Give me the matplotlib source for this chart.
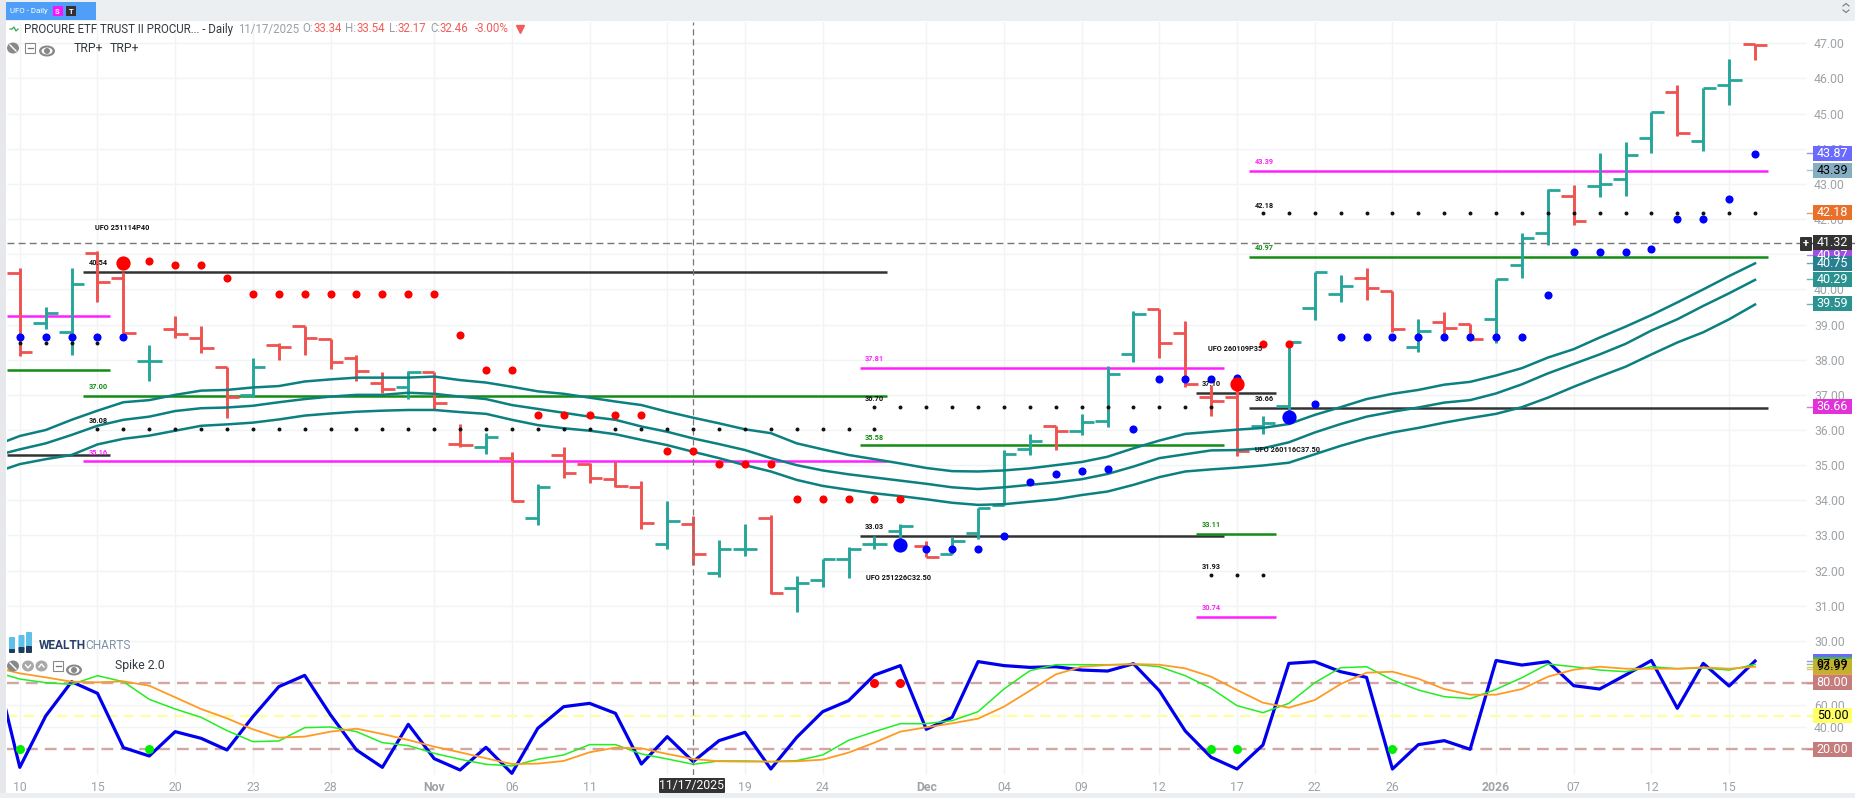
import numpy as np
import matplotlib
matplotlib.use("Agg")
import matplotlib.pyplot as plt
from matplotlib.patches import Rectangle, Circle, FancyBboxPatch, Ellipse
from matplotlib.transforms import blended_transform_factory as blend

plt.rcParams['font.family'] = ['Roboto', 'DejaVu Sans']

# ---------- price bars ----------
opens = [40.46,39.05,38.80,41.04,40.31,37.97,38.87,38.61,37.78,37.00,38.41,38.96,38.58,38.04,37.33,37.22,37.64,35.61,35.53,35.21,33.49,35.30,35.02,34.61,34.39,32.75,33.34,31.94,32.62,33.49,31.50,31.72,32.32,32.75,33.12,32.71,32.48,33.06,33.87,35.45,36.11,35.96,36.27,38.17,39.43,38.75,36.95,36.93,36.10,36.68,39.46,39.86,40.33,39.95,38.35,39.08,39.02,39.15,40.70,41.60,42.65,42.95,43.13,44.30,45.61,44.21,45.80,46.98]
highs = [40.60,39.49,40.60,41.10,40.50,38.42,39.24,38.96,37.80,38.04,38.47,38.96,38.58,38.14,37.64,37.68,37.66,36.17,35.91,35.37,34.46,35.51,35.05,35.12,34.55,33.98,33.54,32.87,33.33,33.58,31.85,32.32,32.66,32.99,33.33,32.83,32.95,33.77,35.43,35.89,36.12,36.45,37.82,39.38,39.44,39.10,37.28,37.20,36.40,38.47,40.50,40.41,40.60,39.95,39.16,39.35,39.02,40.29,41.60,42.86,42.97,43.89,44.20,45.06,45.81,45.72,46.55,46.98]
lows = [38.11,38.87,38.13,39.65,38.75,37.40,38.61,38.20,36.35,36.93,37.99,38.13,37.73,37.38,37.06,36.89,36.60,35.51,35.31,33.98,33.30,34.63,34.48,34.39,33.18,32.61,32.17,31.83,32.43,31.33,30.82,31.53,31.78,32.61,32.90,32.40,32.47,32.89,33.87,35.29,35.43,35.86,36.08,37.93,38.04,37.21,36.41,35.26,35.88,36.30,39.13,39.63,39.70,38.78,38.23,38.66,38.58,38.47,40.31,41.25,41.83,42.64,42.67,43.89,44.37,43.95,45.25,46.52]
closes = [38.23,39.34,40.14,40.22,38.77,37.97,38.74,38.34,36.93,37.78,38.37,38.61,37.94,37.69,37.18,37.64,36.76,35.56,35.81,33.99,34.37,34.79,34.63,34.42,33.35,33.40,32.46,32.61,32.62,31.36,31.66,32.32,32.61,32.75,33.28,32.40,32.85,33.77,35.31,35.68,35.98,36.24,37.58,39.29,38.47,37.32,36.82,35.41,36.19,38.49,40.49,40.11,40.03,38.86,38.81,38.91,38.60,40.29,41.47,42.83,41.94,42.99,43.83,45.04,44.46,45.72,45.95,46.94]

# ---------- moving averages (first value is one session before the first bar) ----------
ma_upper = [35.55,35.83,36.00,36.29,36.55,36.79,36.85,37.00,37.12,37.14,37.21,37.25,37.38,37.44,37.49,37.49,37.49,37.52,37.42,37.35,37.23,37.10,37.03,36.92,36.81,36.71,36.52,36.35,36.19,36.02,35.91,35.62,35.45,35.29,35.17,35.05,34.92,34.83,34.82,34.85,34.91,35.00,35.09,35.24,35.48,35.70,35.89,35.95,36.01,36.06,36.17,36.43,36.65,36.88,37.03,37.14,37.29,37.37,37.55,37.76,38.06,38.30,38.63,38.94,39.27,39.63,40.00,40.38,40.74]
ma_mid = [35.26,35.45,35.62,35.86,36.12,36.29,36.38,36.54,36.62,36.64,36.69,36.79,36.88,36.95,37.00,37.00,37.06,37.03,36.95,36.88,36.71,36.60,36.49,36.38,36.29,36.10,35.95,35.76,35.60,35.43,35.20,35.00,34.85,34.74,34.65,34.56,34.47,34.37,34.32,34.37,34.44,34.51,34.60,34.75,34.96,35.20,35.31,35.42,35.43,35.48,35.65,35.93,36.17,36.38,36.52,36.64,36.78,36.85,37.04,37.30,37.61,37.88,38.15,38.45,38.83,39.15,39.53,39.89,40.27]
ma_lower = [34.78,35.03,35.17,35.29,35.59,35.75,35.84,35.98,36.12,36.16,36.21,36.30,36.41,36.47,36.52,36.55,36.57,36.57,36.51,36.46,36.29,36.14,36.05,35.98,35.88,35.72,35.57,35.38,35.20,35.00,34.82,34.58,34.41,34.30,34.20,34.12,34.03,33.93,33.87,33.89,33.96,34.03,34.15,34.25,34.44,34.66,34.82,34.88,34.93,34.99,35.07,35.31,35.55,35.76,35.93,36.06,36.21,36.34,36.46,36.65,36.92,37.23,37.52,37.80,38.15,38.49,38.78,39.15,39.57]

# ---------- signal dots: session index -> price ----------
blue_idx = [0,1,2,3,4,35,36,37,38,39,40,41,42,43,44,45,46,47,50,51,52,53,54,55,56,57,58,59,60,61,62,63,64,65,66,67]
blue_val = [38.65,38.65,38.65,38.65,38.65,32.62,32.62,32.62,32.99,34.53,34.76,34.82,34.89,36.03,37.46,37.46,37.46,37.47,36.74,38.65,38.65,38.65,38.65,38.65,38.65,38.65,38.65,39.84,41.07,41.07,41.07,41.15,42.00,42.00,42.57,43.85]
blue_big_idx = [34,49]
blue_big_val = [32.73,36.38]
red_idx = [5,6,7,8,9,10,11,12,13,14,15,16,17,18,19,20,21,22,23,24,25,26,27,28,29,30,31,32,33,34,48,49]
red_val = [40.81,40.70,40.70,40.31,39.87,39.87,39.87,39.87,39.87,39.87,39.87,39.87,38.70,37.71,37.71,36.43,36.43,36.43,36.43,36.43,35.40,35.40,35.03,35.03,35.03,34.04,34.04,34.04,34.04,34.04,38.45,38.45]
red_big_idx = [4,47]
red_big_val = [40.74,37.30]
black_runs = [(0,3,38.48),(3,33,36.03),(33,46,36.66),(46,48,31.88),(48,67,42.16)]

# ---------- option levels: start, end, price, colour ----------
GREEN, MAG, BLK = '#148c14', '#ff1fff', '#333333'
levels = [(-0.5,3.5,39.24,MAG),(-0.5,3.5,37.71,GREEN),(-0.5,3.5,35.29,BLK),
          (2.45,33.47,40.50,BLK),(2.45,33.47,36.97,GREEN),(2.45,33.47,35.12,MAG),
          (32.45,46.5,37.77,MAG),(32.45,46.5,35.56,GREEN),(32.45,46.5,32.99,BLK),
          (45.4,48.5,37.05,BLK),(45.4,48.5,33.05,GREEN),(45.4,48.5,30.69,MAG),
          (47.45,67.5,43.37,MAG),(47.45,67.5,40.93,GREEN),(47.45,67.5,36.64,BLK)]
level_labels = [(3.05,40.74,'40.54','#111111'),(3.05,37.21,'37.00','#148c14'),(3.05,36.27,'36.08','#111111'),(3.05,35.36,'35.16',MAG),
                (33.0,38.01,'37.81',MAG),(33.0,36.89,'36.70','#111111'),(33.0,35.78,'35.58','#148c14'),(33.0,33.23,'33.03','#111111'),
                (46.0,37.30,'37.10','#111111'),(46.0,33.30,'33.11','#148c14'),(46.0,32.11,'31.93','#111111'),(46.0,30.93,'30.74',MAG),
                (48.04,43.61,'43.39',MAG),(48.04,42.38,'42.18','#111111'),(48.04,41.17,'40.97','#148c14'),(48.04,36.87,'36.66','#111111'),
                (3.97,41.74,'UFO 251114P40','#111111'),(33.93,31.78,'UFO 251226C32.50','#111111'),
                (46.94,38.30,'UFO 260109P35','#111111'),(48.95,35.43,'UFO 260116C37.50','#111111')]

# ---------- Spike 2.0 pane (first value is one session before the first bar) ----------
spike_blue = [100,3.75,50.0,80.9,70.4,21.5,14.0,35.9,29.9,19.4,49.4,76.4,86.6,50.9,19.4,3.75,42.5,11.6,1.35,21.8,-1.65,38.9,58.4,61.4,52.4,6.75,31.4,8.9,27.8,35.3,2.25,30.8,53.9,63.8,86.9,95.4,38.0,48.8,99.0,95.4,93.8,94.4,91.4,90.5,97.1,72.8,36.5,12.8,2.25,23.9,97.4,98.95,89.9,84.8,2.25,24.2,27.8,20.0,100,95.9,98.95,77.3,74.3,86.9,100,56.9,97.4,77.0,99.5]
spike_green = [90,83.3,80,78.5,86.3,80.9,65.0,56.3,48.8,36.8,26.9,27.5,39.5,40.1,35.9,26.0,23.3,16.4,11.0,6.5,5.0,11.0,14.9,24.2,24.2,15.8,11.3,6.5,9.5,9.5,8.9,9.8,14.9,28.1,35.9,43.1,43.1,45.8,53.9,74.3,90.8,96.2,96.2,96.2,96.5,94.4,86.3,74.9,59.3,53.0,61.4,80.0,93.5,94.4,82.4,73.4,67.4,65.6,74.0,84.5,96.8,94.4,91.4,89.9,94.4,92.6,93.2,91.4,96.5]
spike_orange = [94,88.4,84.8,80.9,80.3,81.2,77.3,66.8,56.3,47.9,38.0,30.5,31.4,35.9,38.6,33.8,28.4,22.4,17.3,11.9,6.75,7.1,9.5,17.3,21.5,20.9,15.8,11.3,9.2,8.9,8.9,9.2,10.7,17.0,26.0,35.9,39.8,43.4,47.6,58.4,72.8,87.5,94.4,95.9,96.8,96.2,92.9,85.4,73.4,62.0,57.5,64.4,78.8,89.0,89.9,83.6,74.3,69.2,69.2,74.3,85.4,91.7,94.4,92.6,92.6,92.6,93.8,92.6,94.4]
spike_green_dots = [0,5,46,47,53]
spike_red_dots = [33,34]

# ---------- axes text ----------
x_ticks = [0,3,6,9,12,16,19,22,25,28,31,35,38,41,44,47,50,53,57,60,63,66]
x_labels = ['10','15','20','23','28','Nov','06','11','','19','24','Dec','04','09','12','17','22','26','2026','07','12','15']
bold_labels = ['Nov','Dec','2026']
price_ticks = list(range(30,48))
spike_ticks = [40,60]
cross_idx, cross_price = 26, 41.32
price_tags = [(43.87,'43.87','#6a6aff','white'),(43.39,'43.39','#85aec2','black'),(42.18,'42.18','#e8702a','white'),
              (40.97,'40.97','#a04fe0','white'),(40.75,'40.75','#27808f','white'),(40.29,'40.29','#2a9390','white'),
              (39.59,'39.59','#2a9390','white'),(36.66,'36.66','#e032d8','white'),(41.32,'41.32','#333333','white')]
spike_tags = [(99.1,'','#6a6aff','black'),(96.8,'97.99','#44bb44','black'),(92.0,'','#f0a040','black'),(94.4,'93.97','#c4b030','black'),
              (80,'80.00','#c47c7c','white'),(50,'50.00','#ffff66','black'),(20,'20.00','#c47c7c','white')]

W, H = 1855, 798
fig = plt.figure(figsize=(W/100, H/100), dpi=100, facecolor='white')
L, R = 7, 1855
def axrect(top, bot):
    return [L/W, 1-bot/H, (R-L)/W, (bot-top)/H]
ax = fig.add_axes(axrect(22, 655))
ax2 = fig.add_axes(axrect(655, 775))
xlim = (-0.494, 70.86)
GRID = '#f0f4f5'
TICKC = '#9ea3a8'
for a in (ax, ax2):
    a.set_xlim(*xlim)
    a.set_facecolor('none')
    for s in a.spines.values():
        s.set_visible(False)
    a.set_xticks(x_ticks)
    a.grid(axis='x', color=GRID, lw=1.0, zorder=0)
    a.set_axisbelow(True)
ax.set_ylim(29.60, 47.606)
ax2.set_ylim(-3.15, 104.95)
ax.tick_params(axis='x', length=0, labelbottom=False)
ax2.set_xticklabels(x_labels, fontsize=8.8, color=TICKC)
for t in ax2.get_xticklabels():
    if t.get_text() in bold_labels:
        t.set_fontweight('bold')
ax2.tick_params(axis='x', length=0, pad=4.5)
grid_end = 68.97
for a, ticks in ((ax, price_ticks), (ax2, spike_ticks)):
    a.yaxis.tick_right()
    a.set_yticks(ticks)
    a.set_yticklabels([f'{t:.2f}' for t in ticks], fontsize=8.8, color=TICKC)
    a.tick_params(axis='y', length=0, pad=-29.5)
    for t in a.get_yticklabels():
        t.set_ha('left')
ax.hlines(price_ticks, xlim[0], grid_end, color=GRID, lw=1.0, zorder=0.5)
ax2.hlines([40, 60], xlim[0], grid_end, color=GRID, lw=1.0, zorder=0.5)

# levels
for x0, x1, y, c in levels:
    ax.hlines(y, x0, x1, color=c, lw=1.8, zorder=2)
# OHLC
RED, TEAL = '#ef5350', '#26a69a'
n = len(opens)
tick = 0.48
for i in range(n):
    c = TEAL if closes[i] >= opens[i] else RED
    ax.vlines(i, lows[i], highs[i], color=c, lw=2.1, zorder=3, capstyle='butt')
    ax.hlines(opens[i], i-tick, i, color=c, lw=2.0, zorder=3, capstyle='butt')
    ax.hlines(closes[i], i, i+tick, color=c, lw=2.0, zorder=3, capstyle='butt')
# moving averages
ma_x = np.arange(-1, n)
for s in (ma_upper, ma_mid, ma_lower):
    ax.plot(ma_x, s, color='#0c8080', lw=1.8, zorder=4, solid_joinstyle='round')
# dots
ax.scatter(blue_idx, blue_val, s=34, color='#0000ff', zorder=6, linewidths=0)
ax.scatter(blue_big_idx, blue_big_val, s=105, color='#0000ff', zorder=6, linewidths=0)
ax.scatter(red_idx, red_val, s=34, color='#ff0000', zorder=6, linewidths=0)
ax.scatter(red_big_idx, red_big_val, s=105, color='#ff0000', zorder=6, linewidths=0)
for i0, i1, y in black_runs:
    xs = np.arange(i0, i1+1)
    ax.scatter(xs, np.full(xs.shape, y), s=8, color='#111111', zorder=6.5, linewidths=0)
for x, y, t, c in level_labels:
    ax.text(x, y, t, color=c, fontsize=5.3, ha='center', va='center', zorder=7, fontweight='bold')

# crosshair
ax.axhline(cross_price, color='#777777', lw=1.0, dashes=(5, 3), zorder=5)
ax.axvline(cross_idx, color='#777777', lw=0.9, dashes=(5, 3), zorder=5)
ax2.axvline(cross_idx, color='#777777', lw=0.9, dashes=(5, 3), zorder=5)

# spike pane
ax2.axhline(80, color='#d4a5a5', lw=1.7, dashes=(5, 3), zorder=1)
ax2.axhline(20, color='#d4a5a5', lw=1.7, dashes=(5, 3), zorder=1)
ax2.axhline(50, color='#ffff99', lw=1.5, dashes=(5, 3), zorder=1)
ax2.plot(ma_x, spike_blue, color='#0000ee', lw=2.3, zorder=3, clip_on=True)
ax2.plot(ma_x, spike_green, color='#22ee22', lw=1.1, zorder=4)
ax2.plot(ma_x, spike_orange, color='#ff9a22', lw=1.3, zorder=5)
ax2.scatter(spike_green_dots, [20]*len(spike_green_dots), s=42, color='#00ee00', zorder=6, linewidths=0)
ax2.scatter(spike_red_dots, [80]*len(spike_red_dots), s=42, color='#ff0000', zorder=6, linewidths=0)

# value tags
tag_x0 = (1813-L)/(R-L)
tag_w = 39/(R-L)
tick_x0 = (1807-L)/(R-L)
def tag(a, y, txt, fc, tc, h):
    tr = blend(a.transAxes, a.transData)
    a.add_patch(Rectangle((tag_x0, y-h/2), tag_w, h, transform=tr, fc=fc, ec='none', zorder=20, clip_on=False))
    a.plot([tick_x0, tag_x0], [y, y], transform=tr, color=fc, lw=1.0, zorder=19, clip_on=False, alpha=.7)
    if txt:
        a.text(tag_x0+tag_w/2, y, txt, transform=tr, color=tc, fontsize=9, ha='center', va='center', zorder=21, clip_on=False)
for y, t, fc, tc in price_tags:
    tag(ax, y, t, fc, tc, 15/35.16)
for y, t, fc, tc in spike_tags:
    tag(ax2, y, t, fc, tc, 15/1.11)

# chrome overlay in pixel space
ui = fig.add_axes([0, 0, 1, 1], zorder=10)
ui.set_xlim(0, W); ui.set_ylim(H, 0); ui.axis('off'); ui.patch.set_alpha(0)
STRIP = '#eceff2'
ui.add_patch(Rectangle((0, 0), W, 21, fc=STRIP, ec='none'))
ui.add_patch(Rectangle((0, 0), 6, H, fc='#e6e8ec', ec='none'))
ui.add_patch(Rectangle((0, 793), W, 5, fc=STRIP, ec='none'))
ui.add_patch(Rectangle((6, 2), 90, 18, fc='#4f9ff8', ec='none'))
ui.text(10, 11.5, 'UFO - Daily', color='white', fontsize=5.7, va='center')
ui.add_patch(Rectangle((52.5, 6), 10, 10, fc='#ff10ff', ec='none'))
ui.text(57.5, 11, 'S', color='white', fontsize=5.5, ha='center', va='center', fontweight='bold')
ui.add_patch(Rectangle((66, 6), 10, 10, fc='#333333', ec='none'))
ui.text(71, 11, 'T', color='white', fontsize=5.5, ha='center', va='center', fontweight='bold')
ui.plot([1843, 1846, 1849], [6, 3.5, 6], color='#777777', lw=0.8)
ui.plot([1843, 1846, 1849], [10, 12.5, 10], color='#777777', lw=0.8)

ui.plot([10, 12, 14, 16, 18], [29, 29, 27, 31, 29], color='#3aa655', lw=0.9)
RV = '#f25c5c'; GV = '#9aa0a6'
hy = 29
ui.text(23.7, hy, 'PROCURE ETF TRUST II PROCUR... - Daily', color='#333a40', fontsize=8.3, va='center')
for x, t, c in [(238, '11/17/2025', GV), (302, 'O:', GV), (313.5, '33.34', RV), (345, 'H:', GV), (356.6, '33.54', RV),
                (388.6, 'L:', GV), (398, '32.17', RV), (430, 'C:', GV), (440, '32.46', RV), (475, '-3.00%', RV)]:
    ui.text(x, hy, t, color=c, fontsize=8.3, va='center')
ui.plot([520], [hy], marker='v', color=RV, ms=6, ls='none')

def circ_icon(x, y, c='#888888', slash=True):
    ui.add_patch(Ellipse((x, y), 12, 11, fc=c, ec='none'))
    if slash:
        ui.plot([x-3, x+3], [y-3, y+3], color='white', lw=1)
def box_icon(x, y):
    ui.add_patch(Rectangle((x-5, y-5), 10, 10, fc='white', ec='#888888', lw=0.8))
    ui.plot([x-2.5, x+2.5], [y, y], color='#777777', lw=0.9)
def eye_icon(x, y):
    ui.add_patch(Ellipse((x, y), 16, 11, fc='#888888', ec='none'))
    ui.add_patch(Ellipse((x, y), 11, 7, fc='white', ec='none'))
    ui.add_patch(Ellipse((x, y), 6, 6, fc='#888888', ec='none'))
circ_icon(13, 48); box_icon(30, 48); eye_icon(47, 51)
ui.text(74, 48, 'TRP+', color='#333a40', fontsize=8.8, va='center')
ui.text(110, 48, 'TRP+', color='#333a40', fontsize=8.8, va='center')
circ_icon(13, 666); circ_icon(28, 666, '#a8a8a8', False); circ_icon(41.5, 666, '#a8a8a8', False)
box_icon(58, 666); eye_icon(74, 670)
ui.plot([28-2.5, 28, 28+2.5], [665, 668, 665], color='white', lw=1)
ui.plot([41.5-2.5, 41.5, 41.5+2.5], [667, 664, 667], color='white', lw=1)
ui.text(115, 666, 'Spike 2.0', color='#333a40', fontsize=8.8, va='center')

for x, t0, t1 in [(9, 637, 651), (18.5, 635, 650), (26, 632, 648)]:
    ui.add_patch(FancyBboxPatch((x+1, t0+1), 4, t1-t0-2, boxstyle='round,pad=1', fc='#5cc0e8', ec='none'))
for x, t0 in [(9, 649), (18.5, 647), (26, 646)]:
    ui.add_patch(FancyBboxPatch((x+1, t0+1), 4, 653-t0-2, boxstyle='round,pad=1', fc='#1f3a60', ec='none'))
ui.text(39, 645.7, 'WEALTH', color='#25406a', fontsize=8.6, va='center', fontweight='bold')
ui.text(85.5, 645.7, 'CHARTS', color='#7f93aa', fontsize=8.6, va='center')

# crosshair tags
ui.add_patch(FancyBboxPatch((660, 779), 64, 13, boxstyle='round,pad=1', fc='#333333', ec='none'))
ui.text(692, 785.7, '11/17/2025', color='white', fontsize=8.8, ha='center', va='center')
ui.add_patch(FancyBboxPatch((1801, 238), 10, 12, boxstyle='round,pad=1', fc='#333333', ec='none'))
ui.text(1806, 244, '+', color='white', fontsize=8, ha='center', va='center', fontweight='bold')

fig.savefig('out.png', dpi=100, facecolor='white')
